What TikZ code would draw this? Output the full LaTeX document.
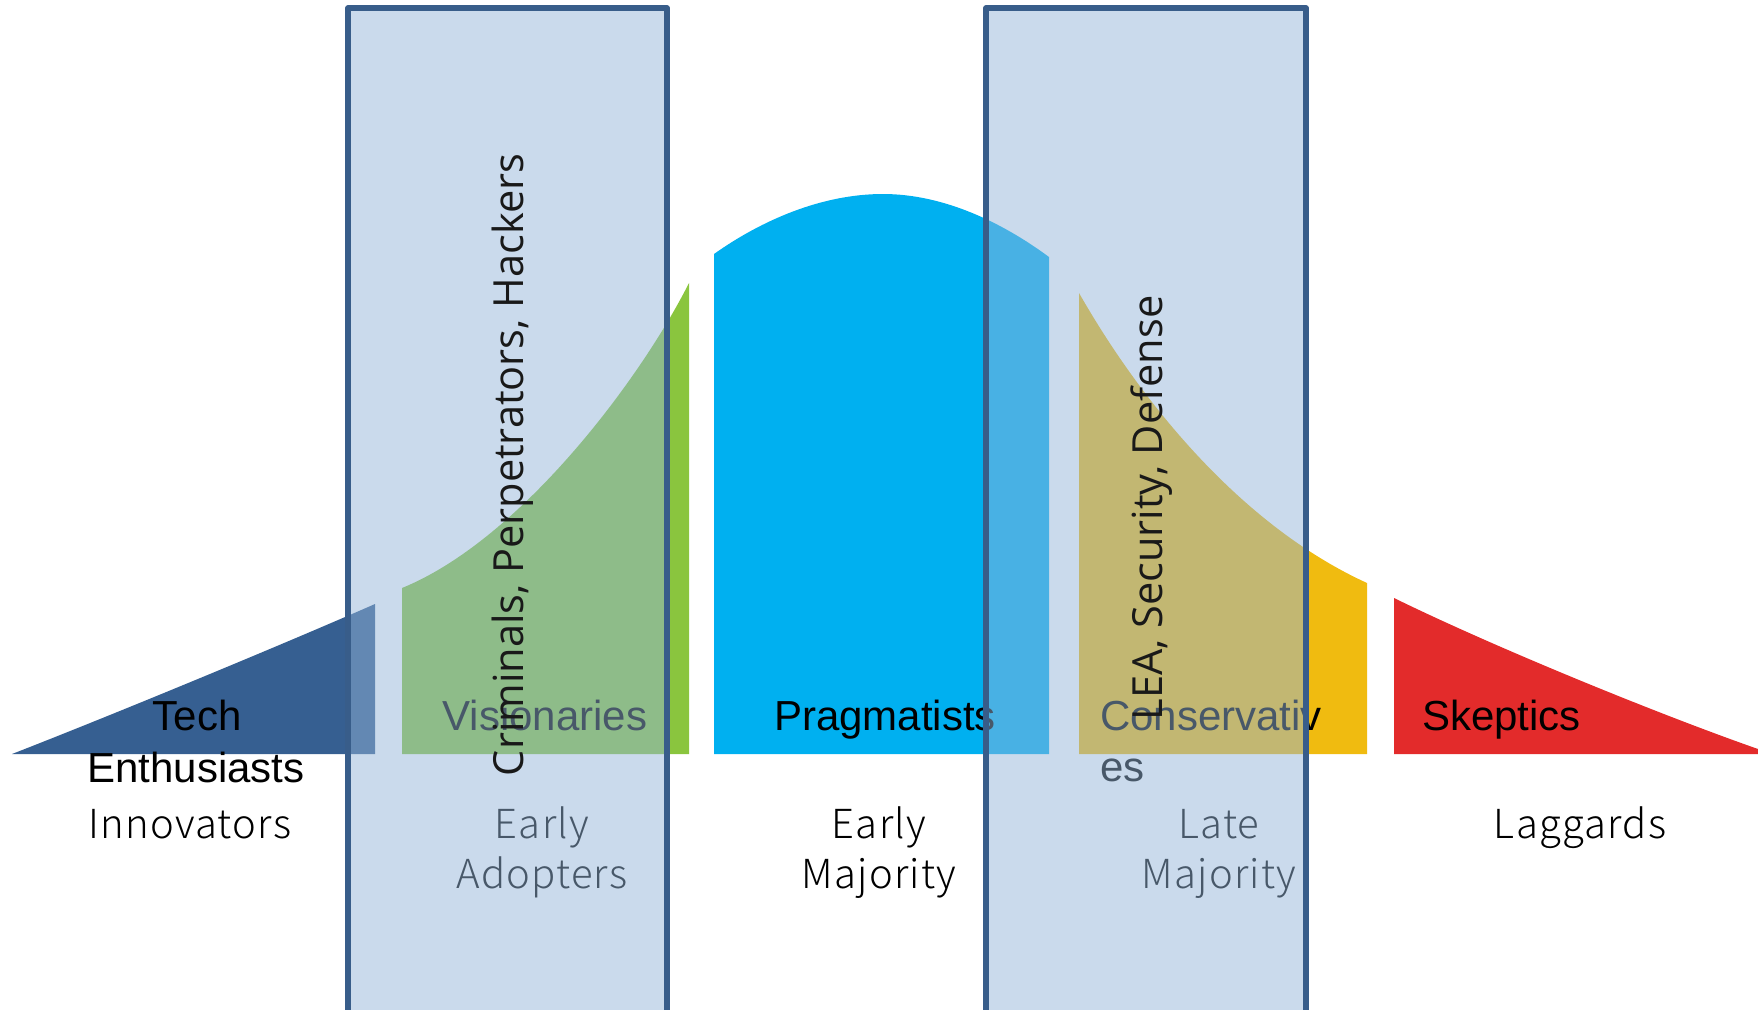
\documentclass[tikz,border=0pt]{standalone}
\usepackage{fontspec}
\setmainfont{Liberation Sans}
\newfontfamily\jpfont{Noto Sans CJK JP Light}[LetterSpace=3]
\newfontfamily\sidefont{Open Sans}
\definecolor{innovblue}{HTML}{365F91}
\definecolor{earlygreen}{RGB}{138,197,62}
\definecolor{majblue}{HTML}{00B0F0}
\definecolor{lategold}{RGB}{240,187,16}
\definecolor{lagred}{RGB}{227,43,43}
\definecolor{boxline}{HTML}{385D8A}
\definecolor{boxfill}{RGB}{147,180,216}
\begin{document}
\begin{tikzpicture}[x=1pt, y=-1pt,
  seg/.style={font=\fontsize{42}{50}\selectfont, anchor=base, inner sep=0pt},
  grp/.style={font=\jpfont\fontsize{40}{50}\selectfont, anchor=base, inner sep=0pt},
  side/.style={font=\sidefont\fontsize{41.5}{50}\selectfont, anchor=base, inner sep=0pt, rotate=90, text=black!90},
  band/.style={draw=boxline, line width=5.5pt, line join=round, fill=boxfill, fill opacity=0.49}]
\useasboundingbox (0,0) rectangle (1758,1009);
% curve pieces
\fill[innovblue] (12,754) .. controls (130,708) and (300,637) .. (375,604) -- (375,754) -- cycle;
\fill[earlygreen] (402,754) -- (402,588) .. controls (520,540) and (640,380) .. (689,283) -- (689,754) -- cycle;
\fill[majblue] (714,754) -- (714,254) .. controls (762,220) and (822,194) .. (883,194) .. controls (944,194) and (1003,223) .. (1049,257) -- (1049,754) -- cycle;
\fill[lategold] (1079,754) -- (1079,293) .. controls (1140,400) and (1240,525) .. (1367,583) -- (1367,754) -- cycle;
\fill[lagred] (1394,754) -- (1394,598) .. controls (1494,647) and (1658,714) .. (1758,749) -- (1758,754) -- cycle;
% segment names
\node[seg] (tech) at (197,730) {Tech};
\node[seg] (enth) at (196,782) {Enthusiasts};
\node[seg] (vis) at (545,730) {Visionaries};
\node[seg] (prag) at (885,730) {Pragmatists};
\node[seg, anchor=base west] (cons) at (1100,730) {Conservativ};
\node[seg, anchor=base west] (consb) at (1100,781) {es};
\node[seg, anchor=base west] (skep) at (1422,730) {Skeptics};
% adopter groups
\node[grp] (inno) at (190,838) {Innovators};
\node[grp] (eara) at (542,838) {Early};
\node[grp] (earb) at (542,888) {Adopters};
\node[grp] (ema) at (879,838) {Early};
\node[grp] (emb) at (879,888) {Majority};
\node[grp] (lma) at (1219,838) {Late};
\node[grp] (lmb) at (1219,888) {Majority};
\node[grp] (lag) at (1580,838) {Laggards};
% overlays
\path[band] (348,8) rectangle (667,1040);
\path[band] (986,8) rectangle (1306,1040);
\node[side] (crim) at (523,465) {Criminals, Perpetrators, Hackers};
\node[side] (lea) at (1162,508) {LEA, Security, Defense};
\end{tikzpicture}
\end{document}
